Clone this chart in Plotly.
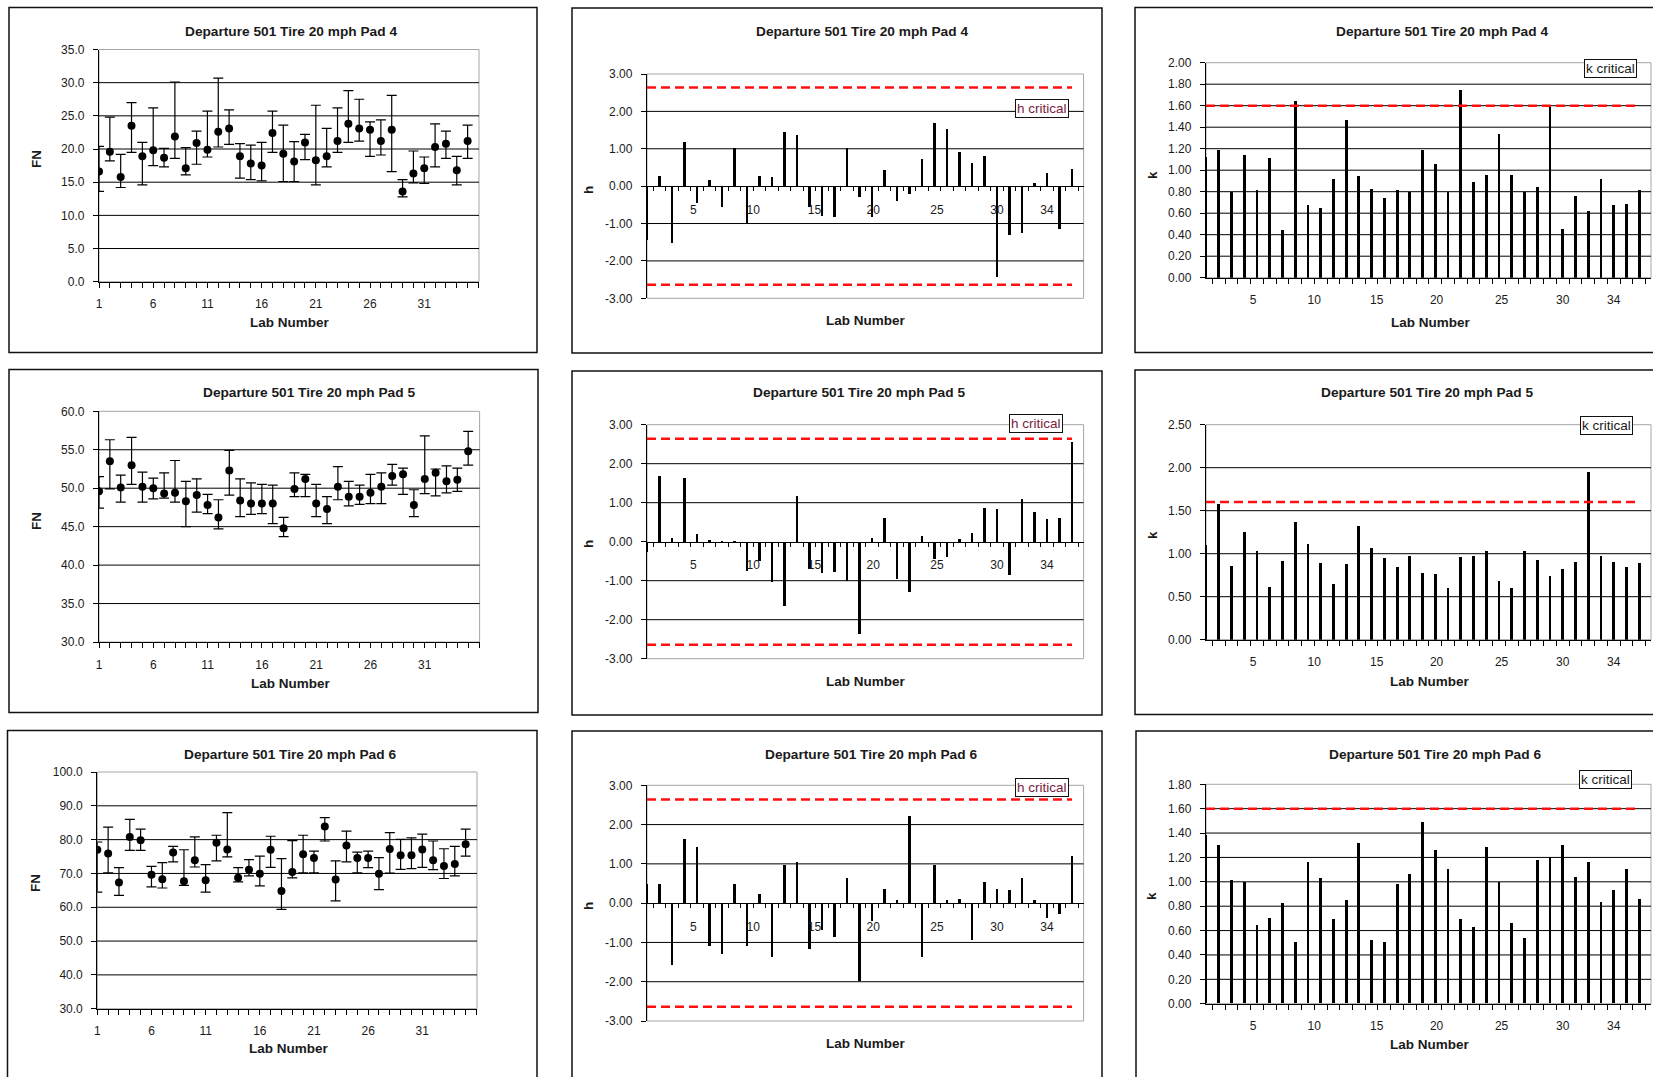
import plotly.graph_objects as go

W, H = 1653, 1077

# ---------------------------------------------------------------- data
labs = list(range(1, 36))
pads = ["4", "5", "6"]

# FN: mean of each lab with the upper / lower end of its range
fn4_mean = [16.6, 19.6, 15.8, 23.5, 18.9, 19.8, 18.7, 21.9, 17.1, 20.9, 19.9, 22.6, 23.1, 18.9, 17.8, 17.5, 22.4, 19.3,
            18.1, 21.0, 18.3, 18.9, 21.2, 23.8, 23.1, 22.9, 21.2, 22.9, 13.6, 16.3, 17.1, 20.3, 20.8, 16.8, 21.2]
fn4_hi = [20.4, 24.8, 19.2, 27.0, 21.0, 26.2, 20.1, 30.1, 20.2, 22.7, 25.7, 30.7, 25.9, 20.8, 20.6, 21.0, 25.7, 23.6,
          21.1, 22.2, 26.6, 23.1, 26.2, 28.8, 27.5, 24.1, 24.4, 28.1, 15.4, 19.7, 18.8, 23.8, 22.7, 18.9, 23.6]
fn4_lo = [13.6, 18.2, 14.2, 19.5, 14.6, 17.5, 17.3, 18.6, 16.1, 17.7, 18.8, 20.3, 20.7, 15.6, 15.4, 15.2, 19.5, 15.1,
          15.1, 18.4, 14.6, 17.3, 19.5, 21.0, 21.2, 18.9, 19.1, 16.6, 12.8, 14.9, 14.8, 17.3, 18.6, 14.6, 18.6]

fn5_mean = [49.6, 53.5, 50.1, 53.0, 50.2, 50.0, 49.3, 49.4, 48.3, 49.1, 47.8, 46.2, 52.3, 48.4, 48.0, 48.0, 48.0, 44.8,
            49.9, 51.2, 48.0, 47.3, 50.2, 48.9, 48.9, 49.4, 50.2, 51.6, 51.8, 47.8, 51.2, 52.0, 50.9, 51.1, 54.8]
fn5_hi = [51.5, 56.3, 51.7, 56.6, 52.1, 51.3, 52.0, 53.6, 50.9, 51.2, 49.2, 48.5, 54.9, 51.2, 50.7, 50.5, 50.4, 46.2,
          52.0, 51.8, 50.5, 48.9, 52.8, 50.9, 50.4, 51.8, 52.0, 53.1, 52.6, 49.8, 56.8, 52.5, 52.9, 52.6, 57.4]
fn5_lo = [47.4, 49.9, 48.2, 50.5, 48.2, 48.6, 48.7, 48.2, 45.0, 46.9, 46.7, 44.7, 49.1, 46.3, 46.6, 46.7, 45.4, 43.7,
          48.9, 48.9, 46.3, 45.4, 48.5, 47.7, 47.9, 48.0, 48.0, 50.4, 49.2, 46.3, 49.3, 49.0, 49.4, 49.6, 53.0]

fn6_mean = [77.0, 75.9, 67.3, 80.8, 79.8, 69.6, 68.3, 76.2, 67.7, 73.9, 68.0, 79.1, 77.1, 68.7, 71.1, 69.9, 77.0, 64.8,
            70.4, 75.7, 74.6, 83.9, 68.2, 78.3, 74.6, 74.6, 69.9, 77.2, 75.4, 75.4, 77.1, 73.9, 72.2, 72.8, 78.6]
fn6_hi = [79.3, 83.7, 71.7, 86.0, 83.1, 72.1, 73.2, 78.0, 77.0, 80.8, 72.6, 81.3, 88.0, 71.7, 74.1, 75.1, 81.0, 74.4,
          79.7, 81.3, 76.6, 86.5, 73.7, 82.5, 76.3, 76.6, 74.7, 82.1, 80.1, 80.5, 81.6, 79.6, 77.3, 78.0, 83.1]
fn6_lo = [64.5, 70.2, 63.5, 76.8, 76.8, 66.0, 65.7, 73.4, 66.5, 71.9, 64.5, 73.7, 74.9, 67.5, 69.3, 66.3, 71.8, 59.4,
          68.7, 70.2, 70.2, 79.6, 61.9, 73.4, 70.2, 71.7, 65.2, 70.1, 71.2, 71.4, 71.8, 71.1, 68.5, 69.3, 75.1]

# Mandel's h statistic per lab
h4 = [-1.44, 0.27, -1.51, 1.19, -0.46, 0.16, -0.55, 1.03, -0.99, 0.27, 0.24, 1.46, 1.37, -0.57, -0.80, -0.82, 1.03,
      -0.28, -0.82, 0.43, -0.41, -0.22, 0.73, 1.68, 1.52, 0.92, 0.63, 0.81, -2.42, -1.31, -1.24, 0.08, 0.36, -1.15, 0.46]
h5 = [-0.25, 1.68, 0.10, 1.65, 0.20, 0.04, 0.01, 0.01, -0.75, -0.48, -1.03, -1.63, 1.18, -0.69, -0.80, -0.78, -0.99,
      -2.36, 0.10, 0.61, -0.94, -1.29, 0.16, -0.44, -0.39, 0.07, 0.23, 0.87, 0.84, -0.84, 1.11, 0.77, 0.58, 0.62, 2.56]
h6 = [0.48, 0.48, -1.58, 1.62, 1.41, -1.11, -1.30, 0.48, -1.11, 0.23, -1.38, 0.97, 1.05, -1.17, -0.69, -0.88, 0.64,
      -2.00, -0.47, 0.36, 0.08, 2.21, -1.39, 0.97, 0.08, 0.11, -0.95, 0.54, 0.36, 0.32, 0.64, 0.08, -0.39, -0.29, 1.20]

# Mandel's k statistic per lab
k4 = [1.13, 1.19, 0.80, 1.14, 0.82, 1.12, 0.45, 1.65, 0.68, 0.65, 0.92, 1.47, 0.95, 0.83, 0.74, 0.82, 0.80, 1.19,
      1.06, 0.80, 1.75, 0.89, 0.96, 1.34, 0.96, 0.80, 0.85, 1.60, 0.46, 0.76, 0.62, 0.92, 0.68, 0.69, 0.82]
k5 = [1.10, 1.58, 0.86, 1.26, 1.04, 0.62, 0.92, 1.37, 1.12, 0.90, 0.65, 0.88, 1.33, 1.07, 0.95, 0.85, 0.98, 0.78,
      0.77, 0.60, 0.97, 0.98, 1.04, 0.69, 0.60, 1.04, 0.93, 0.74, 0.82, 0.91, 1.95, 0.98, 0.91, 0.85, 0.90]
k6 = [1.38, 1.30, 1.01, 1.00, 0.64, 0.70, 0.82, 0.50, 1.16, 1.03, 0.69, 0.85, 1.32, 0.52, 0.50, 0.98, 1.06, 1.49,
      1.26, 1.10, 0.69, 0.63, 1.28, 1.00, 0.66, 0.54, 1.18, 1.20, 1.30, 1.04, 1.16, 0.83, 0.93, 1.10, 0.86]

h_critical = 2.64
k_critical = 1.60

fn_tick_labels = ["1", "6", "11", "16", "21", "26", "31"]
hk_tick_labels = ["5", "10", "15", "20", "25", "30", "34"]

# ---------------------------------------------------------------- layout constants
FONT = "Liberation Sans, Arial, sans-serif"
TXT = "#1a1a1a"
RED = "#ff1010"
fn_tick_pos = [1, 6, 11, 16, 21, 26, 31]
hk_tick_pos = [4.7, 9.5, 14.4, 19.1, 24.2, 29.0, 33.0]

# pixel boxes: plot area (x0, y0, x1, y1), chart frame, title / x-title / y-title centres, legend box centre
panels = [
    dict(kind="fn", plot=(99, 49.5, 479, 281.7), frame=(9, 7.5, 537, 352.5), title=(291, 31), xt=(290, 322), yt=(36, 159)),
    dict(kind="h", plot=(647, 74, 1083.6, 298.3), frame=(572, 8, 1102, 353), title=(862, 32), xt=(866, 321), yt=(588, 190), leg=(1042, 109)),
    dict(kind="k", plot=(1206, 62.7, 1651, 277.7), frame=(1135, 7.5, 1665, 352.5), title=(1442, 31), xt=(1431, 322), yt=(1152, 175), leg=(1610, 68)),
    dict(kind="fn", plot=(99, 411.3, 479.6, 642), frame=(9, 369.5, 538, 712.5), title=(309, 392), xt=(291, 683), yt=(36, 521)),
    dict(kind="h", plot=(647, 424.7, 1083.6, 658.7), frame=(572, 371, 1102, 715), title=(859, 392), xt=(866, 681), yt=(588, 544), leg=(1036, 423.5)),
    dict(kind="k", plot=(1206, 424.7, 1651, 639.7), frame=(1135, 370, 1665, 714.5), title=(1427, 392), xt=(1430, 681), yt=(1152, 535), leg=(1606, 425.5)),
    dict(kind="fn", plot=(97.3, 772, 477, 1008.7), frame=(7.5, 730.5, 537, 1090), title=(290, 754), xt=(289, 1048.5), yt=(35, 883)),
    dict(kind="h", plot=(647, 785.3, 1083.6, 1021), frame=(572, 731, 1102, 1090), title=(871, 754), xt=(866, 1043.5), yt=(588, 906), leg=(1041.5, 787)),
    dict(kind="k", plot=(1206, 784.3, 1651, 1003.7), frame=(1136, 731, 1665, 1090), title=(1435, 754), xt=(1429.5, 1044.5), yt=(1152, 896), leg=(1605.5, 779.5)),
]

fn_data = {"4": (fn4_mean, fn4_hi, fn4_lo, 0, 35, 5),
           "5": (fn5_mean, fn5_hi, fn5_lo, 30, 60, 5),
           "6": (fn6_mean, fn6_hi, fn6_lo, 30, 100, 10)}
h_data = {"4": h4, "5": h5, "6": h6}
k_data = {"4": (k4, 2.0, 0.2), "5": (k5, 2.5, 0.5), "6": (k6, 1.8, 0.2)}


def fx(x):
    return x / W


def fy(y):
    return 1 - y / H


def frange(a, b, step):
    vals, v = [], a
    while v <= b + 1e-9:
        vals.append(round(v, 4))
        v += step
    return vals


fig = go.Figure()
shapes, annotations, layout_axes = [], [], {}

for i, p in enumerate(panels, start=1):
    row = (i - 1) // 3
    pad = pads[row]
    xr = "x" if i == 1 else f"x{i}"
    yr = "y" if i == 1 else f"y{i}"
    xkey = "xaxis" if i == 1 else f"xaxis{i}"
    ykey = "yaxis" if i == 1 else f"yaxis{i}"
    x0, y0, x1, y1 = p["plot"]
    xdom = [fx(x0), fx(x1)]
    ydom = [fy(y1), fy(y0)]
    tickfont = dict(family=FONT, size=12, color=TXT)
    common = dict(showgrid=False, zeroline=False, showline=True, linecolor="black", linewidth=1.3,
                  tickmode="array", tickfont=tickfont, automargin=False)

    # chart frame
    fx0, fy0, fx1, fy1 = p["frame"]
    shapes.append(dict(type="rect", xref="paper", yref="paper", x0=fx(fx0), x1=fx(fx1), y0=fy(fy1), y1=fy(fy0),
                       line=dict(color="#111111", width=1.5), fillcolor="rgba(0,0,0,0)", layer="below"))
    # plot-area outline
    shapes.append(dict(type="rect", xref=f"{xr} domain", yref=f"{yr} domain", x0=0, x1=1, y0=0, y1=1,
                       line=dict(color="#a6a6a6", width=1), layer="below"))

    ylabel = {"fn": "FN", "h": "h", "k": "k"}[p["kind"]]

    if p["kind"] == "fn":
        mean, hi, lo, ymin, ymax, step = fn_data[pad]
        fig.add_trace(go.Scatter(
            x=labs, y=mean, mode="markers", xaxis=xr, yaxis=yr, showlegend=False,
            marker=dict(color="black", size=8),
            error_y=dict(type="data", symmetric=False,
                         array=[round(a - m, 3) for a, m in zip(hi, mean)],
                         arrayminus=[round(m - b, 3) for m, b in zip(mean, lo)],
                         color="black", thickness=1.2, width=5)))
        yvals = frange(ymin, ymax, step)
        layout_axes[xkey] = dict(domain=xdom, anchor=yr, range=[1, 36.05],
                                 tickvals=fn_tick_pos, ticktext=fn_tick_labels,
                                 ticks="outside", ticklen=5, tickcolor="black", ticklabelstandoff=6,
                                 minor=dict(tickmode="array", tickvals=list(range(1, 37)), ticks="outside",
                                            ticklen=5, tickcolor="black"), **common)
        layout_axes[ykey] = dict(domain=ydom, anchor=xr, range=[ymin, ymax],
                                 tickvals=yvals, ticktext=[f"{v:.1f}" for v in yvals],
                                 ticks="outside", ticklen=5, tickcolor="black", ticklabelstandoff=6, **common)
        grid = yvals[1:-1]
    elif p["kind"] == "h":
        vals = h_data[pad]
        fig.add_trace(go.Bar(x=labs, y=vals, width=0.22, xaxis=xr, yaxis=yr, showlegend=False,
                             marker=dict(color="black", line=dict(width=0))))
        for c in (h_critical, -h_critical):
            fig.add_trace(go.Scatter(x=labs, y=[c] * len(labs), mode="lines", xaxis=xr, yaxis=yr,
                                     showlegend=False, line=dict(color=RED, width=2.5, dash="9px,5px")))
        yvals = frange(-3, 3, 1)
        layout_axes[xkey] = dict(domain=xdom, anchor="free", position=(ydom[0] + ydom[1]) / 2,
                                 range=[1, 35.93], tickvals=hk_tick_pos, ticktext=hk_tick_labels,
                                 ticks="outside", ticklen=0, ticklabelstandoff=12,
                                 minor=dict(tickmode="array", tickvals=[v + 0.5 for v in labs], ticks="outside",
                                            ticklen=4, tickcolor="black"), **common)
        layout_axes[ykey] = dict(domain=ydom, anchor=xr, range=[-3, 3],
                                 tickvals=yvals, ticktext=[f"{v:.2f}" for v in yvals],
                                 ticks="outside", ticklen=5, tickcolor="black", ticklabelstandoff=6, **common)
        grid = [v for v in yvals[1:-1] if v != 0]
    else:
        vals, ymax, step = k_data[pad]
        fig.add_trace(go.Bar(x=labs, y=vals, width=0.22, xaxis=xr, yaxis=yr, showlegend=False,
                             marker=dict(color="black", line=dict(width=0))))
        fig.add_trace(go.Scatter(x=labs, y=[k_critical] * len(labs), mode="lines", xaxis=xr, yaxis=yr,
                                 showlegend=False, line=dict(color=RED, width=2.5, dash="9px,5px")))
        yvals = frange(0, ymax, step)
        layout_axes[xkey] = dict(domain=xdom, anchor=yr, range=[1, 35.93],
                                 tickvals=hk_tick_pos, ticktext=hk_tick_labels,
                                 ticks="outside", ticklen=0, ticklabelstandoff=11,
                                 minor=dict(tickmode="array", tickvals=[v + 0.5 for v in labs], ticks="outside",
                                            ticklen=5, tickcolor="black"), **common)
        layout_axes[ykey] = dict(domain=ydom, anchor=xr, range=[0, ymax],
                                 tickvals=yvals, ticktext=[f"{v:.2f}" for v in yvals],
                                 ticks="outside", ticklen=5, tickcolor="black", ticklabelstandoff=6, **common)
        grid = yvals[1:-1]

    # horizontal gridlines
    for g in grid:
        shapes.append(dict(type="line", xref=f"{xr} domain", yref=yr, x0=0, x1=1, y0=g, y1=g,
                           line=dict(color="black", width=1), layer="below"))

    # chart title and axis titles
    tx, ty = p["title"]
    annotations.append(dict(text=f"<b>Departure 501 Tire 20 mph Pad {pad}</b>", x=fx(tx), y=fy(ty),
                            xref="paper", yref="paper", showarrow=False, xanchor="center", yanchor="middle",
                            font=dict(family=FONT, size=13.7, color=TXT)))
    ax_, ay_ = p["xt"]
    annotations.append(dict(text="<b>Lab Number</b>", x=fx(ax_), y=fy(ay_), xref="paper", yref="paper",
                            showarrow=False, xanchor="center", yanchor="middle",
                            font=dict(family=FONT, size=13.5, color=TXT)))
    bx, by = p["yt"]
    annotations.append(dict(text=f"<b>{ylabel}</b>", x=fx(bx), y=fy(by), xref="paper", yref="paper",
                            showarrow=False, xanchor="center", yanchor="middle", textangle=-90,
                            font=dict(family=FONT, size=13.5, color=TXT)))

    # legend entry for the critical line
    if "leg" in p:
        lx, ly = p["leg"]
        is_h = p["kind"] == "h"
        annotations.append(dict(text="h critical" if is_h else "k critical", x=fx(lx), y=fy(ly),
                                xref="paper", yref="paper", showarrow=False, xanchor="center", yanchor="middle",
                                bgcolor="white", bordercolor="#111111", borderwidth=1, borderpad=1,
                                font=dict(family=FONT, size=13.5, color="#7a1c3c" if is_h else TXT)))

fig.update_layout(
    width=W, height=H,
    autosize=False,
    margin=dict(l=0, r=0, t=0, b=0, pad=0, autoexpand=False),
    paper_bgcolor="white",
    plot_bgcolor="rgba(0,0,0,0)",
    showlegend=False,
    bargap=0,
    shapes=shapes,
    annotations=annotations,
    font=dict(family=FONT, size=12, color=TXT),
    **layout_axes,
)

fig.write_html("out.html")
